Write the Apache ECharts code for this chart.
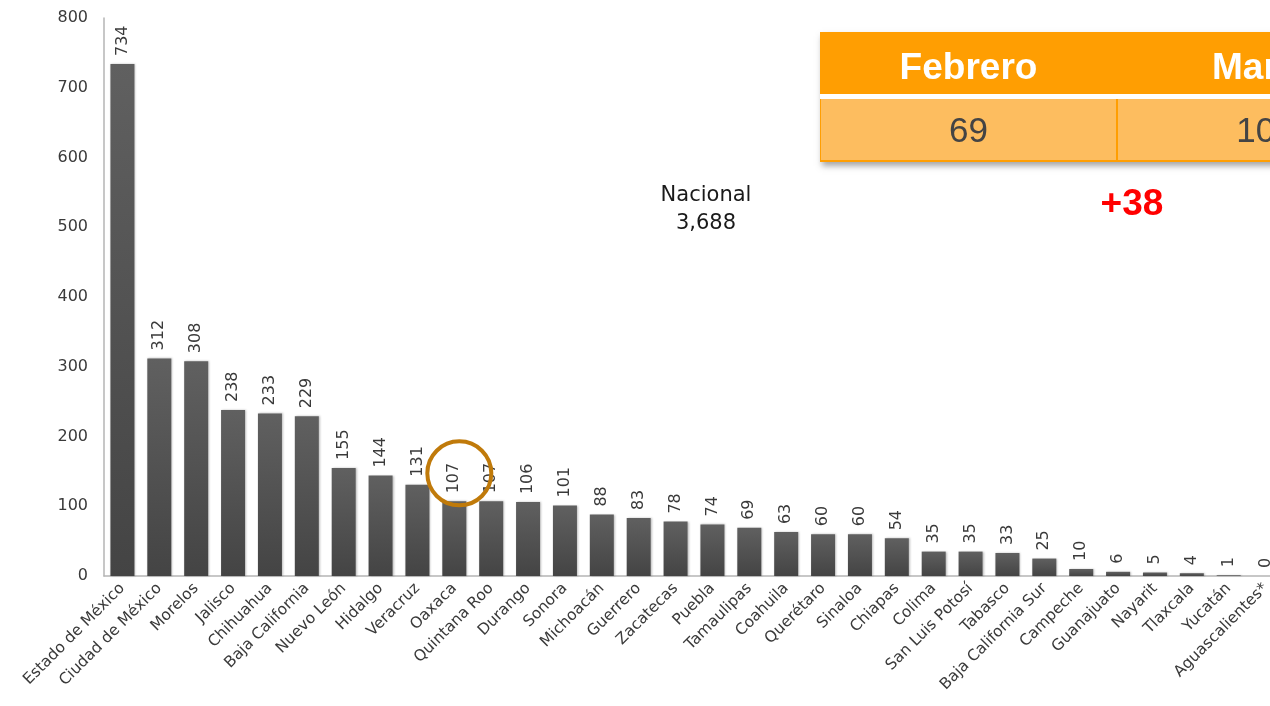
<!DOCTYPE html>
<html>
<head>
<meta charset="utf-8">
<script src="https://cdn.jsdelivr.net/npm/echarts@6/dist/echarts.min.js"></script>
<style>html,body{margin:0;padding:0;background:#fff;overflow:hidden;width:1270px;height:706px;}#c{width:1300px;height:706px;}</style>
</head>
<body>
<div id="c"></div>
<script>
const categories = ['Estado de México','Ciudad de México','Morelos','Jalisco','Chihuahua','Baja California','Nuevo León','Hidalgo','Veracruz','Oaxaca','Quintana Roo','Durango','Sonora','Michoacán','Guerrero','Zacatecas','Puebla','Tamaulipas','Coahuila','Querétaro','Sinaloa','Chiapas','Colima','San Luis Potosí','Tabasco','Baja California Sur','Campeche','Guanajuato','Nayarit','Tlaxcala','Yucatán','Aguascalientes*'];
const values = [734,312,308,238,233,229,155,144,131,107,107,106,101,88,83,78,74,69,63,60,60,54,35,35,33,25,10,6,5,4,1,0];
const yTicks = [0,100,200,300,400,500,600,700,800];
const nationalLabel = 'Nacional';
const nationalTotal = '3,688';
const tableHeaders = ['Febrero','Marzo'];
const tableValues = ['69','107'];
const tableDiff = '+38';
const highlightIndex = 9;

const font = 'DejaVu Sans';
const chart = echarts.init(document.getElementById('c'));

const option = {
  animation: false,
  grid: {left: 104, top: 18, height: 558, width: 1180, containLabel: false},
  xAxis: {
    type: 'category', data: categories,
    axisLine: {lineStyle: {color: '#b5b5b5', width: 1.5}},
    axisTick: {show: false},
    axisLabel: {rotate: 45, fontFamily: font, fontSize: 15.5, color: '#3a3a3a', margin: 10, interval: 0}
  },
  yAxis: {
    type: 'value', min: yTicks[0], max: yTicks[yTicks.length-1], interval: 100,
    axisLine: {show: true, lineStyle: {color: '#b5b5b5', width: 1.5}},
    axisTick: {show: false},
    splitLine: {show: false},
    axisLabel: {fontFamily: font, fontSize: 16, color: '#3a3a3a', margin: 16}
  },
  series: [{
    type: 'bar', data: values, barWidth: 24,
    itemStyle: {
      color: new echarts.graphic.LinearGradient(0,0,0,1,[{offset:0,color:'#606060'},{offset:1,color:'#444444'}]),
      shadowColor: 'rgba(0,0,0,0.25)', shadowBlur: 2, shadowOffsetX: 1
    },
    label: {
      show: true, position: 'top', rotate: 90, distance: 8,
      align: 'left', verticalAlign: 'middle',
      fontFamily: font, fontSize: 16, color: '#3a3a3a'
    }
  }],
  graphic: []
};
chart.setOption(option);

function addOverlay() {
  const g = [];
  // national total
  g.push({type:'text', style:{x: 706, y: 196, text: nationalLabel, fill:'#1a1a1a', font:'21px "'+font+'"', textAlign:'center', textVerticalAlign:'middle'}});
  g.push({type:'text', style:{x: 706, y: 224, text: nationalTotal, fill:'#1a1a1a', font:'21px "'+font+'"', textAlign:'center', textVerticalAlign:'middle'}});
  // circle around highlighted bar label
  const p = chart.convertToPixel({xAxisIndex:0, yAxisIndex:0}, [highlightIndex, values[highlightIndex]]);
  g.push({type:'circle', shape:{cx: p[0]+5, cy: p[1]-28, r: 32}, style:{fill:'none', stroke:'#C07A0A', lineWidth: 4}, z: 100});
  // table
  const tx = 820, ty = 32, colW = 297, hH = 62, rH = 63;
  g.push({type:'rect', shape:{x:tx, y:ty, width: colW*2, height: hH+5+rH}, style:{fill:'#FF9E02', shadowColor:'rgba(0,0,0,0.35)', shadowBlur: 6, shadowOffsetY: 4, shadowOffsetX: 2}, z: 50});
  g.push({type:'rect', shape:{x:tx, y:ty+hH, width: colW*2, height: 5}, style:{fill:'#ffffff'}, z: 51});
  for (let i=0;i<tableHeaders.length;i++){
    const cx = tx + colW*i;
    g.push({type:'rect', shape:{x:cx+1, y:ty+hH+5, width: colW-2, height: rH-2}, style:{fill:'#FDBD5F'}, z: 51});
    g.push({type:'text', style:{x: cx+colW/2, y: ty+hH/2+6, text: tableHeaders[i], fill:'#fff', font:'bold 37px "Liberation Sans"', textAlign:'center', textVerticalAlign:'middle'}, z: 52});
    g.push({type:'text', style:{x: cx+colW/2, y: ty+hH+5+rH/2+2, text: tableValues[i], fill:'#444', font:'35px "Liberation Sans"', textAlign:'center', textVerticalAlign:'middle'}, z: 52});
  }
  g.push({type:'text', style:{x: 1132, y: 205, text: tableDiff, fill:'#ff0000', font:'bold 37px "Liberation Sans"', textAlign:'center', textVerticalAlign:'middle'}, z: 52});
  chart.setOption({graphic: g});
}
addOverlay();
</script>
</body>
</html>
